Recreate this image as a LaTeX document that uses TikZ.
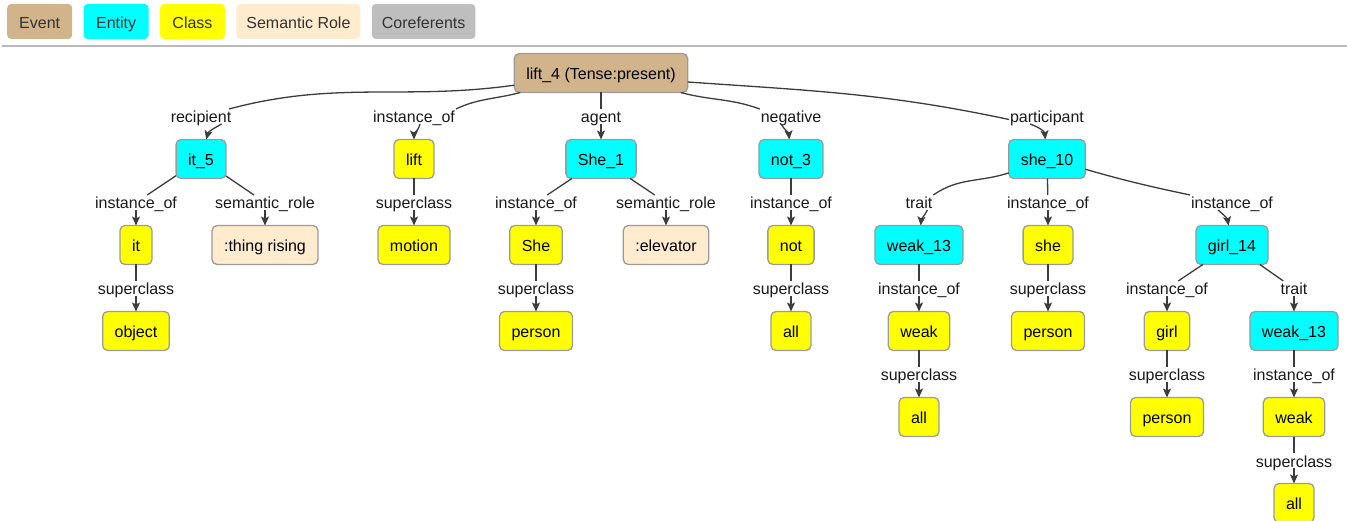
\documentclass[tikz,border=0pt]{standalone}
\usepackage{fontspec}
\setmainfont{Liberation Sans}
\usetikzlibrary{arrows.meta, positioning}
\definecolor{eventcolor}{RGB}{210,180,140}
\definecolor{entitycolor}{RGB}{0,255,255}
\definecolor{classcolor}{RGB}{255,255,0}
\definecolor{rolecolor}{RGB}{255,235,205}
\definecolor{corefcolor}{RGB}{190,190,190}
\definecolor{bordercolor}{RGB}{155,155,155}
\definecolor{linkcolor}{RGB}{60,60,60}
\definecolor{rulecolor}{RGB}{185,185,185}
\tikzset{
  concept/.style={draw=bordercolor, line width=1.3pt, rounded corners=5pt,
                  fill=#1, minimum height=39pt, inner xsep=12pt, inner ysep=0pt,
                  text height=13pt, text depth=0pt, outer sep=0pt},
  concept/.default=classcolor,
  legendbox/.style={fill=#1, rounded corners=4pt, minimum width=65pt,
                    minimum height=35pt, inner xsep=10pt, text=black!80,
                    text height=13.5pt, text depth=0pt},
  link/.style={line width=1.3pt, draw=linkcolor},
  arrow/.style={link, -{Stealth[length=9pt, width=8pt, inset=2pt]}},
  elabel/.style={inner sep=1pt, text height=13pt, text depth=0pt,
                 text=black!90, outer sep=0pt},
}
\begin{document}
\begin{tikzpicture}[x=1pt, y=-1pt, font=\fontsize{16}{19}\selectfont]
  \useasboundingbox (0,0) rectangle (1347,521);

  % Legend
  \node[legendbox=eventcolor, anchor=west] (kevent) at (7,21.5) {Event};
  \node[legendbox=entitycolor, right=11pt of kevent] (kentity) {Entity};
  \node[legendbox=classcolor, right=11pt of kentity] (kclass) {Class};
  \node[legendbox=rolecolor, right=11pt of kclass] (krole) {Semantic Role};
  \node[legendbox=corefcolor, right=11pt of krole] (kcoref) {Coreferents};
  \draw[rulecolor, line width=1.5pt] (2,46) -- (1347,46);

  % Event
  \node[concept=eventcolor] (lift4) at (601,73) {lift\_4 (Tense:present)};

  % Level 1
  \node[concept=entitycolor, below=47pt of lift4, xshift=-400pt] (it5) {it\_5};
  \node[concept, below=47pt of lift4, xshift=-187pt] (lift) {lift};
  \node[concept=entitycolor, below=47pt of lift4] (she1) {She\_1};
  \node[concept=entitycolor, below=47pt of lift4, xshift=190pt] (not3) {not\_3};
  \node[concept=entitycolor, below=47pt of lift4, xshift=446pt] (she10) {she\_10};

  % Level 2
  \node[concept, below=47pt of it5, xshift=-65pt] (it) {it};
  \node[concept=rolecolor, below=47pt of it5, xshift=64pt] (thing) {:thing rising};
  \node[concept, below=47pt of lift] (motion) {motion};
  \node[concept, below=47pt of she1, xshift=-65pt] (sheA) {She};
  \node[concept=rolecolor, below=47pt of she1, xshift=65pt] (elevator) {:elevator};
  \node[concept, below=47pt of not3] (notA) {not};
  \node[concept=entitycolor, below=47pt of she10, xshift=-128pt] (weak13a) {weak\_13};
  \node[concept, below=47pt of she10, xshift=1pt] (sheB) {she};
  \node[concept=entitycolor, below=47pt of she10, xshift=185pt] (girl14) {girl\_14};

  % Level 3
  \node[concept, below=47pt of it] (object) {object};
  \node[concept, below=47pt of sheA] (personA) {person};
  \node[concept, below=47pt of notA] (allA) {all};
  \node[concept, below=47pt of weak13a] (weakA) {weak};
  \node[concept, below=47pt of sheB] (personB) {person};
  \node[concept, below=47pt of girl14, xshift=-65pt] (girl) {girl};
  \node[concept=entitycolor, below=47pt of girl14, xshift=62pt] (weak13b) {weak\_13};

  % Level 4 and 5
  \node[concept, below=47pt of weakA] (allB) {all};
  \node[concept, below=47pt of girl] (personC) {person};
  \node[concept, below=47pt of weak13b] (weakB) {weak};
  \node[concept, below=47pt of weakB] (allC) {all};

  % Relation labels
  \node[elabel, above=15.5pt of it5] (lrecip) {recipient};
  \node[elabel, above=15.5pt of lift] (linst1) {instance\_of};
  \node[elabel, above=15.5pt of she1] (lagent) {agent};
  \node[elabel, above=15.5pt of not3] (lneg) {negative};
  \node[elabel, above=15.5pt of she10] (lpart) {participant};
  \node[elabel, above=15.5pt of it] (linst2) {instance\_of};
  \node[elabel, above=15.5pt of thing] (lrole1) {semantic\_role};
  \node[elabel, above=15.5pt of motion] (lsup1) {superclass};
  \node[elabel, above=15.5pt of sheA] (linst3) {instance\_of};
  \node[elabel, above=15.5pt of elevator] (lrole2) {semantic\_role};
  \node[elabel, above=15.5pt of notA] (linst4) {instance\_of};
  \node[elabel, above=15.5pt of weak13a] (ltrait1) {trait};
  \node[elabel, above=15.5pt of sheB] (linst5) {instance\_of};
  \node[elabel, above=15.5pt of girl14] (linst6) {instance\_of};
  \node[elabel, above=15.5pt of object] (lsup2) {superclass};
  \node[elabel, above=15.5pt of personA] (lsup3) {superclass};
  \node[elabel, above=15.5pt of allA] (lsup4) {superclass};
  \node[elabel, above=15.5pt of weakA] (linst7) {instance\_of};
  \node[elabel, above=15.5pt of personB] (lsup5) {superclass};
  \node[elabel, above=15.5pt of girl] (linst8) {instance\_of};
  \node[elabel, above=15.5pt of weak13b] (ltrait2) {trait};
  \node[elabel, above=15.5pt of allB] (lsup6) {superclass};
  \node[elabel, above=15.5pt of personC] (lsup7) {superclass};
  \node[elabel, above=15.5pt of weakB] (linst9) {instance\_of};
  \node[elabel, above=15.5pt of allC] (lsup8) {superclass};

  % Links from the event
  \draw[link] (lift4) to[out=188, in=15] (lrecip);
  \draw[arrow] (lrecip.-20) to[out=-150, in=75] (it5);
  \draw[link] ([xshift=6pt]lift4.south west) to[out=195, in=25] (linst1.north east);
  \draw[arrow] ([xshift=6pt]linst1.south) to[out=-100, in=90] (lift);
  \draw[link] (lift4) -- (lagent);
  \draw[arrow] (lagent) -- (she1);
  \draw[link] ([xshift=-7pt]lift4.south east) to[out=-15, in=160] (lneg.north west);
  \draw[arrow] ([xshift=-10pt]lneg.south) to[out=-60, in=95] (not3);
  \draw[link] ([yshift=-9pt]lift4.east) to[out=-4, in=168] ([yshift=-3pt]lpart.west);
  \draw[arrow] ([xshift=-17pt]lpart.south) to[out=-20, in=95] (she10);

  % Level 2 links
  \draw[link] (it5) -- (linst2);
  \draw[arrow] (linst2) -- (it);
  \draw[link] (it5) -- (lrole1);
  \draw[arrow] (lrole1) -- (thing);
  \draw[link] (lift) -- (lsup1);
  \draw[arrow] (lsup1) -- (motion);
  \draw[link] (she1) -- (linst3);
  \draw[arrow] (linst3) -- (sheA);
  \draw[link] (she1) -- (lrole2);
  \draw[arrow] (lrole2) -- (elevator);
  \draw[link] (not3) -- (linst4);
  \draw[arrow] (linst4) -- (notA);
  \draw[link] (she10.200) to[out=198, in=35] (ltrait1.north east);
  \draw[arrow] ([xshift=-6pt]ltrait1.south east) to[out=-115, in=85] (weak13a);
  \draw[link] (she10) -- (linst5);
  \draw[arrow] (linst5) -- (sheB);
  \draw[link] (she10.-15) to[out=-16, in=168] (linst6.north west);
  \draw[arrow] ([xshift=-14pt]linst6.south) to[out=-40, in=100] (girl14);

  % Level 3 links
  \draw[link] (it) -- (lsup2);
  \draw[arrow] (lsup2) -- (object);
  \draw[link] (sheA) -- (lsup3);
  \draw[arrow] (lsup3) -- (personA);
  \draw[link] (notA) -- (lsup4);
  \draw[arrow] (lsup4) -- (allA);
  \draw[link] (weak13a) -- (linst7);
  \draw[arrow] (linst7) -- (weakA);
  \draw[link] (sheB) -- (lsup5);
  \draw[arrow] (lsup5) -- (personB);
  \draw[link] (girl14) -- (linst8);
  \draw[arrow] (linst8) -- (girl);
  \draw[link] (girl14) -- (ltrait2);
  \draw[arrow] (ltrait2) -- (weak13b);

  % Level 4 and 5 links
  \draw[link] (weakA) -- (lsup6);
  \draw[arrow] (lsup6) -- (allB);
  \draw[link] (girl) -- (lsup7);
  \draw[arrow] (lsup7) -- (personC);
  \draw[link] (weak13b) -- (linst9);
  \draw[arrow] (linst9) -- (weakB);
  \draw[link] (weakB) -- (lsup8);
  \draw[arrow] (lsup8) -- (allC);
\end{tikzpicture}
\end{document}
